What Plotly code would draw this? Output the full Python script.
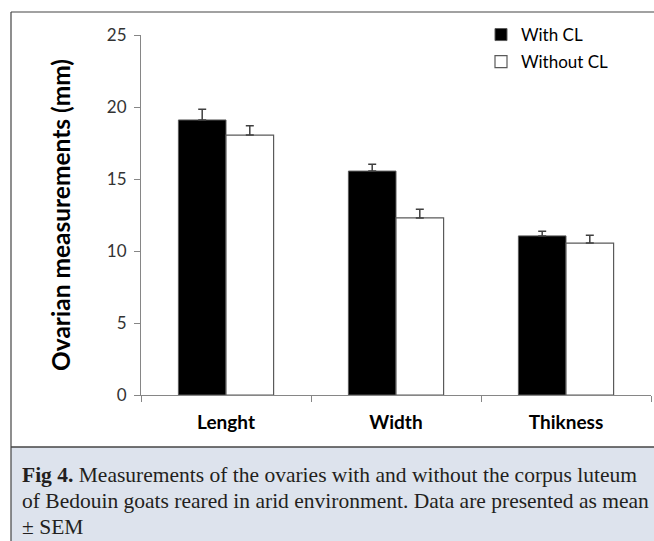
import plotly.graph_objects as go

categories = ["Lenght", "Width", "Thikness"]
with_cl = [19.1, 15.55, 11.05]
with_cl_err = [0.75, 0.47, 0.33]
without_cl = [18.05, 12.3, 10.55]
without_cl_err = [0.65, 0.6, 0.55]
series_names = ["With CL", "Without CL"]
y_ticks = [0, 5, 10, 15, 20, 25]
caption_lines = [
    "<b>Fig 4.</b> Measurements of the ovaries with and without the corpus luteum",
    "of Bedouin goats reared in arid environment. Data are presented as mean",
    "± SEM",
]

W, H = 654, 541
L, R, T, B = 141, 3, 35, 146
pw, ph = W - L - R, H - T - B

def px(x):
    return (x - L) / pw

def py(y):
    return (H - B - y) / ph

fig = go.Figure()
fig.add_trace(go.Bar(
    x=categories, y=with_cl, name=series_names[0], legendgroup="a",
    marker=dict(color="#000000", line=dict(color="#5a5a5a", width=1)),
    error_y=dict(type="data", symmetric=False, array=with_cl_err,
                 arrayminus=[0] * len(with_cl_err), color="#404040",
                 thickness=1.5, width=4),
))
fig.add_trace(go.Bar(
    x=categories, y=without_cl, name=series_names[1], legendgroup="b",
    marker=dict(color="#ffffff", line=dict(color="#5a5a5a", width=1.2)),
    error_y=dict(type="data", symmetric=False, array=without_cl_err,
                 arrayminus=[0] * len(without_cl_err), color="#404040",
                 thickness=1.5, width=4),
))

font_sans = "Lato, Carlito, Calibri, 'Open Sans', sans-serif"
font_serif = "'Liberation Serif', 'DejaVu Serif', serif"

shapes = [
    dict(type="rect", xref="paper", yref="paper",
         x0=px(11), x1=px(660), y0=py(541), y1=py(447),
         fillcolor="#dde3ed", line=dict(width=0), layer="below"),
    dict(type="line", xref="paper", yref="paper",
         x0=px(11), x1=px(660), y0=py(12), y1=py(12),
         line=dict(color="#444444", width=1.2)),
    dict(type="line", xref="paper", yref="paper",
         x0=px(11), x1=px(11), y0=py(12), y1=py(545),
         line=dict(color="#444444", width=1.2)),
    dict(type="line", xref="paper", yref="paper",
         x0=px(11), x1=px(660), y0=py(447), y1=py(447),
         line=dict(color="#444444", width=1.5)),
]

annotations = []
for i, line in enumerate(caption_lines):
    annotations.append(dict(
        text=line, xref="paper", yref="paper", x=px(20), y=py(475 + 26 * i),
        xanchor="left", yanchor="middle", showarrow=False, align="left",
        font=dict(family=font_serif, size=21.5, color="#231f20"),
    ))

fig.update_layout(
    width=W, height=H,
    margin=dict(l=L, r=R, t=T, b=B, autoexpand=False),
    paper_bgcolor="#ffffff", plot_bgcolor="#ffffff",
    barmode="group", bargap=0.44, bargroupgap=0,
    showlegend=True,
    legend=dict(x=px(481), y=py(17), xanchor="left", yanchor="top",
                font=dict(family=font_sans, size=17, color="#000000"),
                bgcolor="rgba(0,0,0,0)", tracegroupgap=2,
                traceorder="grouped"),
    shapes=shapes,
    annotations=annotations,
    xaxis=dict(
        type="category", showline=True, linecolor="#868686", linewidth=1,
        ticks="outside", tickson="boundaries", ticklen=6, tickcolor="#868686",
        tickfont=dict(family=font_sans, size=19, color="#000000"),
        ticklabelstandoff=10, showgrid=False, zeroline=False,
        tickprefix="<b>", ticksuffix="</b>",
    ),
    yaxis=dict(
        range=[0, 25], tickvals=y_ticks, showline=True, linecolor="#868686",
        linewidth=1, ticks="outside", ticklen=6, tickcolor="#868686",
        tickfont=dict(family=font_sans, size=17, color="#333333"),
        ticklabelstandoff=4,
        showgrid=False, zeroline=False,
        title=dict(text="<b>Ovarian measurements (mm)</b>", standoff=29,
                   font=dict(family=font_sans, size=24.5, color="#000000")),
    ),
)

fig.write_html("out.html")
